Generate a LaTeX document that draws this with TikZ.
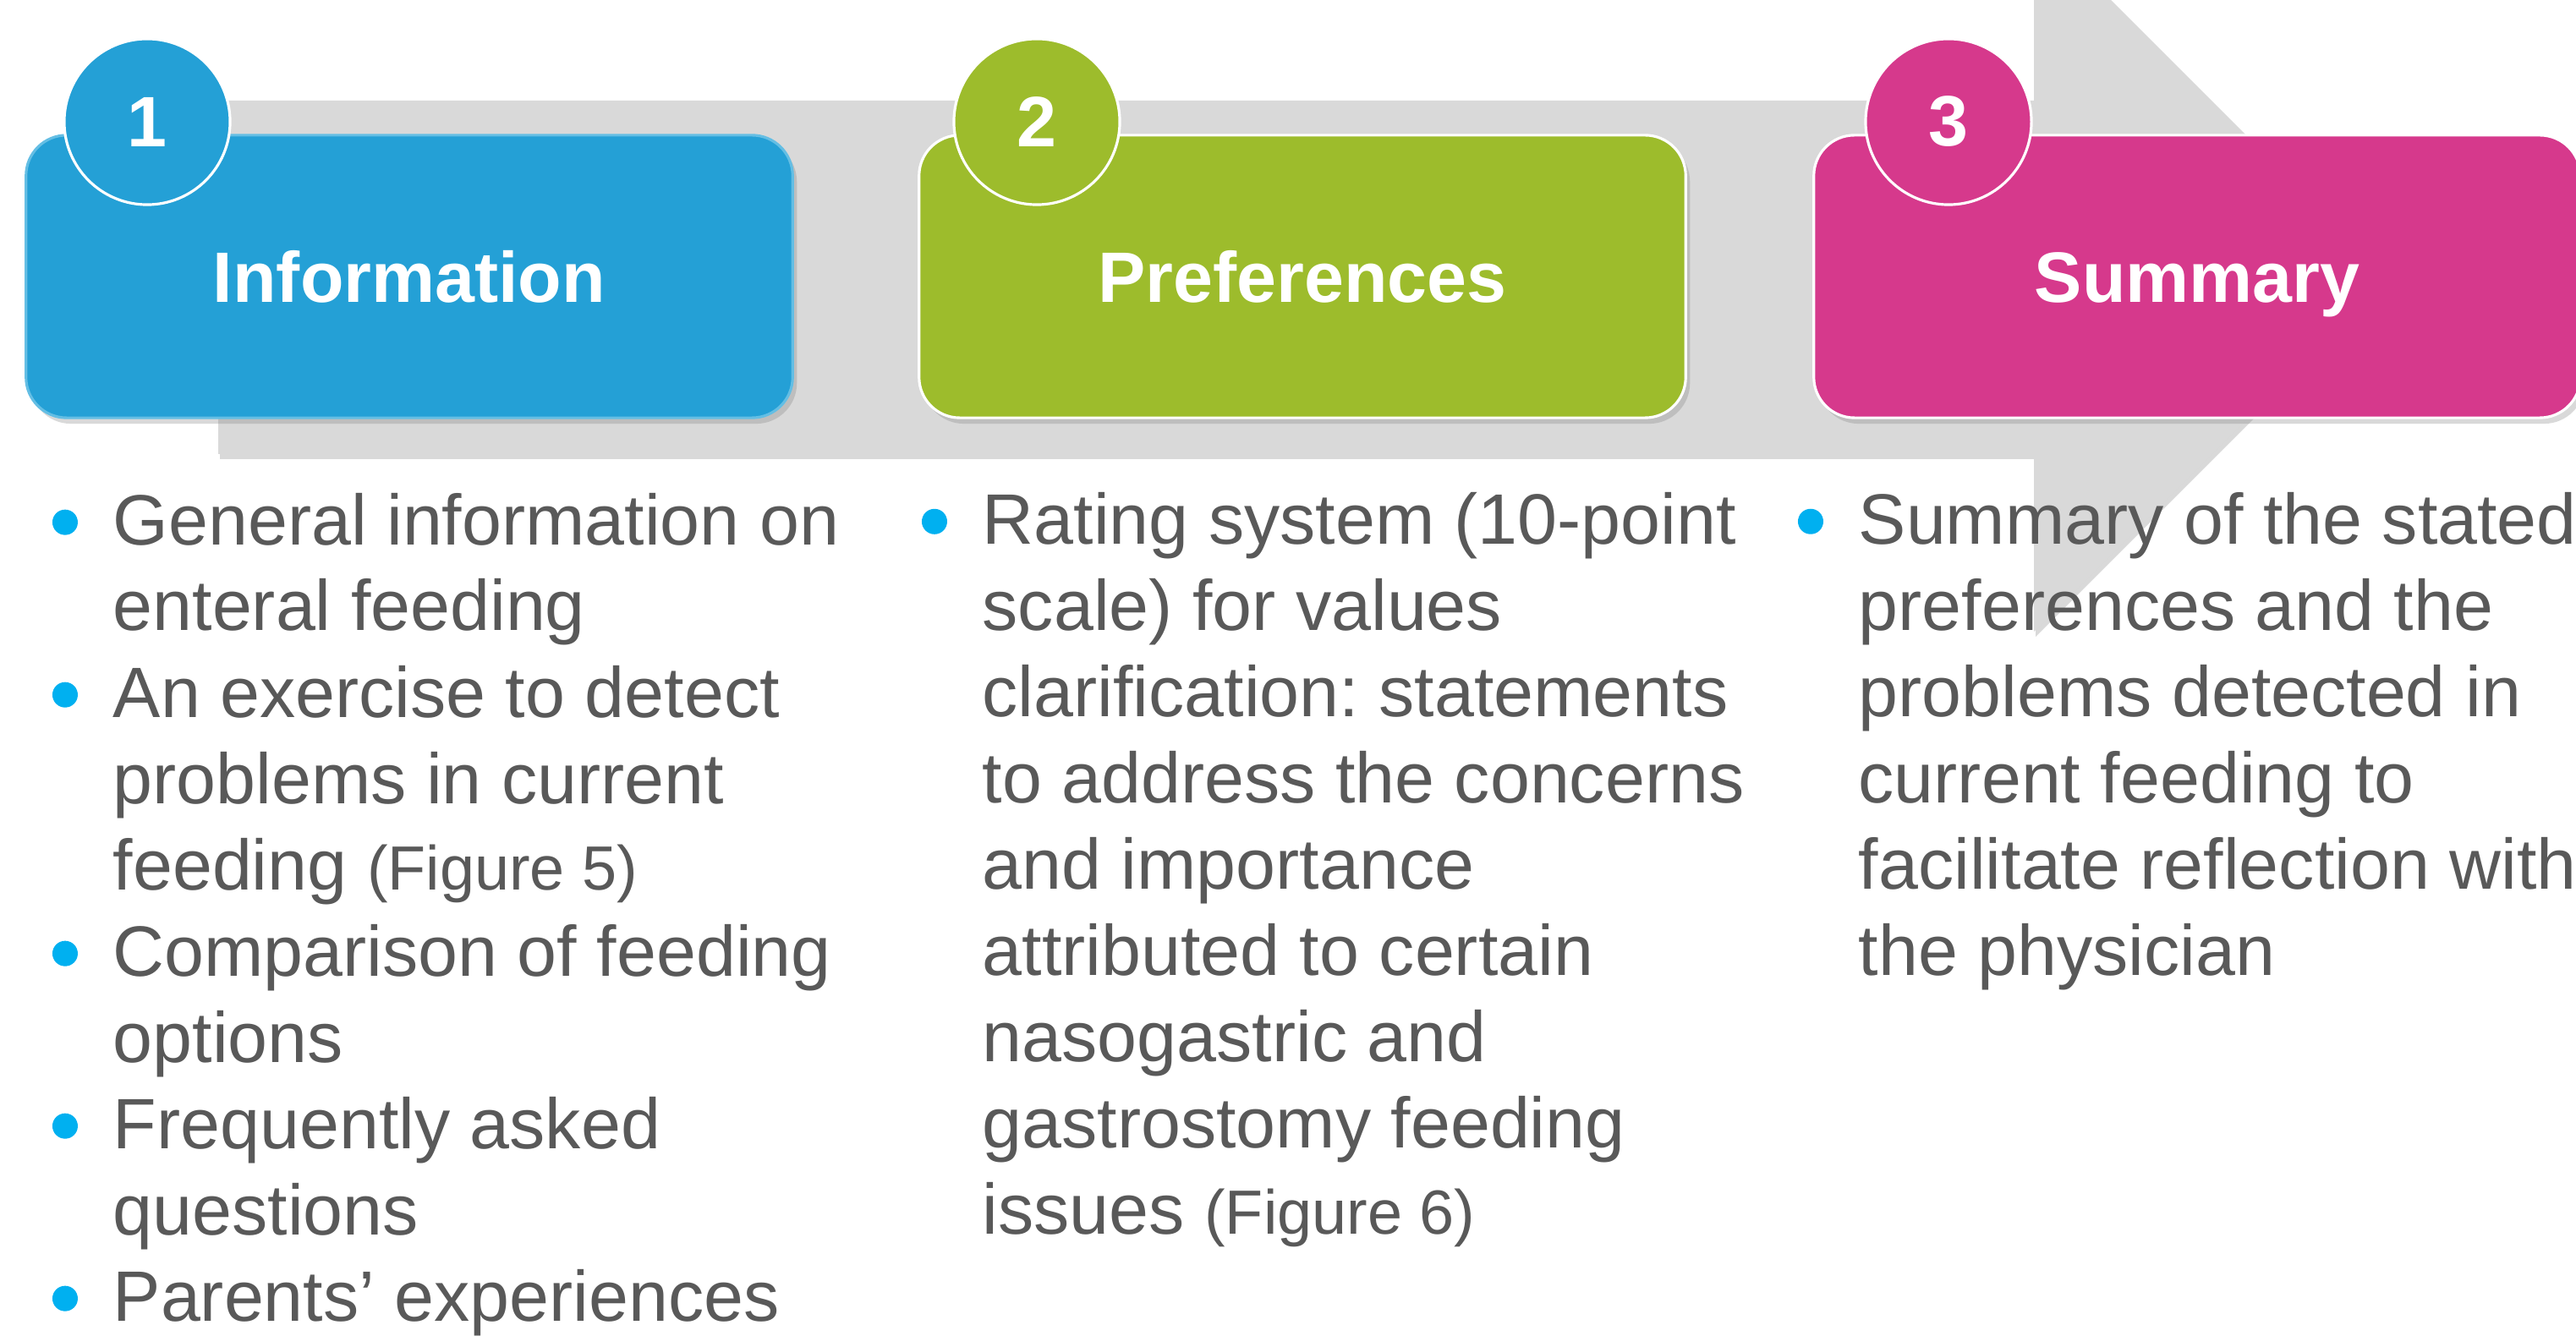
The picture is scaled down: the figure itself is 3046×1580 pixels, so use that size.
\documentclass[tikz,border=0pt]{standalone}
\usepackage{fontspec}
\setmainfont{Liberation Sans}
\usetikzlibrary{positioning, shadows}

\definecolor{infoblue}{RGB}{36,160,214}
\definecolor{infoedge}{RGB}{100,190,228}
\definecolor{prefgreen}{RGB}{157,188,44}
\definecolor{summpink}{RGB}{214,57,140}
\definecolor{arrowgray}{RGB}{217,217,217}
\definecolor{bulletcyan}{RGB}{0,176,240}
\definecolor{textgray}{RGB}{89,89,89}

\newcommand{\figsize}{\fontsize{21}{29}\selectfont}
\frenchspacing

\begin{document}
\begin{tikzpicture}[x=0.01cm, y=-0.01cm,
  stepbox/.style={rounded corners=0.48cm, minimum width=9.06cm, minimum height=3.34cm,
    draw=white, line width=0.9pt, text=white, text height=17.2pt, text depth=0pt,
    font=\fontsize{24}{29}\selectfont\bfseries,
    drop shadow={shadow xshift=0.05cm, shadow yshift=-0.07cm, opacity=0.3}},
  numdot/.style={circle, minimum size=1.96cm, inner sep=0pt, draw=white, line width=0.9pt,
    text=white, font=\fontsize{24}{29}\selectfont\bfseries},
  itemtext/.style={anchor=base west, align=left, inner sep=0pt, text=textgray,
    font=\fontsize{24}{29}\selectfont},
  bulletdot/.style={circle, fill=bulletcyan, minimum size=0.3cm, inner sep=0pt}
]
  \clip (0,0) rectangle (3046,1580);

  % Gray process arrow behind the steps
  \fill[arrowgray, drop shadow={shadow xshift=0.02cm, shadow yshift=-0.06cm, opacity=0.3}]
    (258,119) -- (2405,119) -- (2405,-91) -- (2824,328) -- (2405,747) -- (2405,537) -- (258,537) -- cycle;

  % Step boxes
  \node[stepbox, fill=infoblue, draw=infoedge] (info) at (484,327) {Information};
  \node[stepbox, fill=prefgreen] (pref) at (1540,327) {Preferences};
  \node[stepbox, fill=summpink] (summ) at (2598,327) {Summary};

  % Numbered circles
  \node[numdot, fill=infoblue] (n1) at (174,144) {1};
  \node[numdot, fill=prefgreen] (n2) at (1226,144) {2};
  \node[numdot, fill=summpink] (n3) at (2304,144) {3};

  % Column 1: information (placed at the baseline of the last line)
  \node[itemtext] (i11) at (133,746) {General information on\\enteral feeding};
  \node[itemtext] (i12) at (133,1052) {An exercise to detect\\problems in current\\feeding {\figsize(Figure 5)}};
  \node[itemtext] (i13) at (133,1256) {Comparison of feeding\\options};
  \node[itemtext] (i14) at (133,1460) {Frequently asked\\questions};
  \node[itemtext] (i15) at (133,1562) {Parents’ experiences};

  % Column 2: preferences
  \node[itemtext] (i21) at (1161,1459) {Rating system (10-point\\scale) for values\\clarification: statements\\to address the concerns\\and importance\\attributed to certain\\nasogastric and\\gastrostomy feeding\\issues {\figsize(Figure 6)}};

  % Column 3: summary
  \node[itemtext] (i31) at (2197,1153) {Summary of the stated\\preferences and the\\problems detected in\\current feeding to\\facilitate reflection with\\the physician};

  % Bullets in front of the first line of each item
  \foreach \itm in {i11,i12,i13,i14,i15,i21,i31}
    \node[bulletdot] (b-\itm) at ([xshift=-0.56cm, yshift=-0.355cm]\itm.north west) {};
\end{tikzpicture}
\end{document}
